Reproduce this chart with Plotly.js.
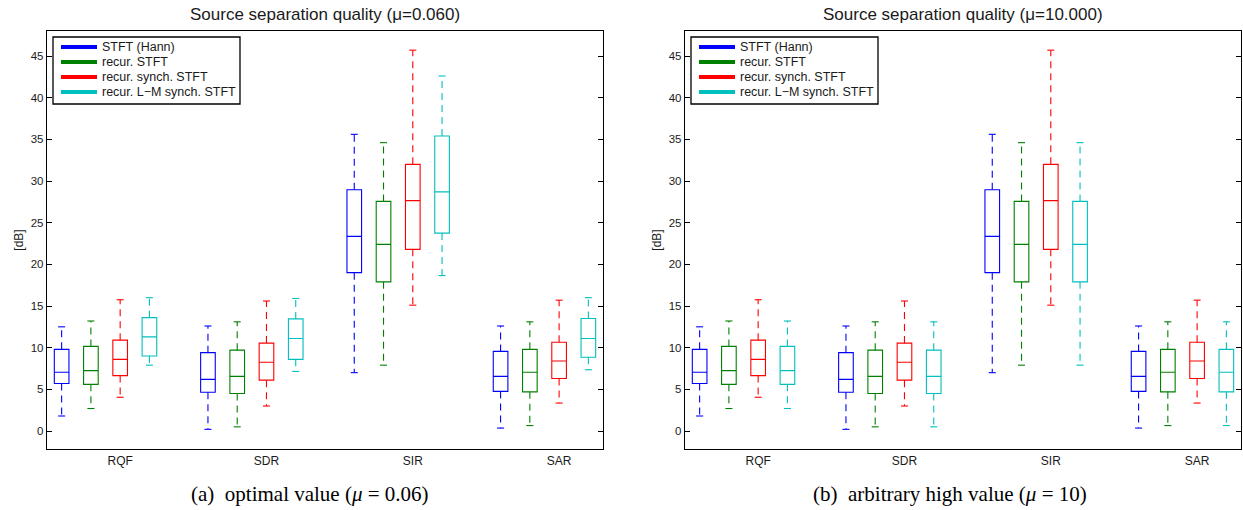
<!DOCTYPE html>
<html><head><meta charset="utf-8">
<script src="https://cdn.plot.ly/plotly-3.0.1.min.js"></script>
<style>html,body{margin:0;padding:0;background:#fff}#chart{width:1243px;height:510px}</style>
</head><body><div id="chart"></div>
<script>
// ---------------- data ----------------
const categories = ['RQF', 'SDR', 'SIR', 'SAR'];
const seriesNames = ['STFT (Hann)', 'recur. STFT', 'recur. synch. STFT', 'recur. L\u2212M synch. STFT'];
const seriesColors = ['#0000ff', '#008000', '#ff0000', '#00bfbf'];
const panelTitles = ['Source separation quality (\u03bc=0.060)', 'Source separation quality (\u03bc=10.000)'];
const panelCaptions = ['(a)&nbsp;&nbsp;optimal value (<i>\u03bc</i>&nbsp;=&nbsp;0.06)', '(b)&nbsp;&nbsp;arbitrary high value (<i>\u03bc</i>&nbsp;=&nbsp;10)'];
const yTickVals = [0, 5, 10, 15, 20, 25, 30, 35, 40, 45];

// each row: one category, [lower whisker, q1, median, q3, upper whisker] in dB
// panel (a) mu = 0.06
const a_hann  = [[1.8, 5.7, 7.05, 9.8, 12.5], [0.2, 4.65, 6.2, 9.4, 12.6], [7.0, 19.0, 23.35, 28.95, 35.6], [0.35, 4.75, 6.55, 9.55, 12.6]];
const a_recur = [[2.7, 5.6, 7.25, 10.15, 13.2], [0.5, 4.5, 6.55, 9.7, 13.1], [7.9, 17.9, 22.4, 27.55, 34.6], [0.65, 4.7, 7.05, 9.8, 13.1]];
const a_synch = [[4.05, 6.65, 8.6, 10.9, 15.75], [3.0, 6.1, 8.25, 10.55, 15.6], [15.1, 21.8, 27.65, 32.0, 45.7], [3.35, 6.3, 8.4, 10.65, 15.7]];
const a_lm    = [[7.9, 9.0, 11.3, 13.6, 16.0], [7.15, 8.6, 11.1, 13.45, 15.9], [18.65, 23.75, 28.7, 35.4, 42.6], [7.35, 8.85, 11.1, 13.5, 16.0]];
// panel (b) mu = 10
const b_hann  = [[1.8, 5.7, 7.05, 9.8, 12.5], [0.2, 4.65, 6.2, 9.4, 12.6], [7.0, 19.0, 23.35, 28.95, 35.6], [0.35, 4.75, 6.55, 9.55, 12.6]];
const b_recur = [[2.7, 5.6, 7.25, 10.15, 13.2], [0.5, 4.5, 6.55, 9.7, 13.1], [7.9, 17.9, 22.4, 27.55, 34.6], [0.65, 4.7, 7.05, 9.8, 13.1]];
const b_synch = [[4.05, 6.65, 8.6, 10.9, 15.75], [3.0, 6.1, 8.25, 10.55, 15.6], [15.1, 21.8, 27.65, 32.0, 45.7], [3.35, 6.3, 8.4, 10.65, 15.7]];
const b_lm    = [[2.7, 5.6, 7.25, 10.15, 13.2], [0.5, 4.5, 6.55, 9.7, 13.1], [7.9, 17.9, 22.4, 27.55, 34.6], [0.65, 4.7, 7.05, 9.8, 13.1]];

// ---------------- layout constants ----------------
const W = 1243, H = 510;
const SLOTS = 5;          // boxes per group + 1 gap slot
const BOX_W = 0.5;        // box width (data units)
const CAP_HALF = 0.12;    // whisker cap half width (data units)
const axisPx = [[47, 603], [685, 1241]];
const yTopPx = 31, yBotPx = 449;
const pxX = p => p / W, pxY = p => 1 - p / H;
const font = 'Liberation Sans, Arial, Helvetica, sans-serif';
const textColor = '#1a1a1a';

const panels = [
  {xa: 'x', ya: 'y', data: [a_hann, a_recur, a_synch, a_lm]},
  {xa: 'x2', ya: 'y2', data: [b_hann, b_recur, b_synch, b_lm]}
];

const pos = (g, s) => g * SLOTS + s + 1;

const traces = [];
panels.forEach(panel => {
  panel.data.forEach((series, s) => {
    const color = seriesColors[s];
    const xs = categories.map((c, g) => pos(g, s));
    // box + median
    traces.push({
      type: 'box', orientation: 'v', xaxis: panel.xa, yaxis: panel.ya,
      x: xs,
      q1: series.map(d => d[1]), median: series.map(d => d[2]), q3: series.map(d => d[3]),
      lowerfence: series.map(d => d[1]), upperfence: series.map(d => d[3]),
      width: BOX_W, whiskerwidth: 0, boxpoints: false,
      line: {color: color, width: 1.1}, fillcolor: 'rgba(0,0,0,0)',
      name: seriesNames[s], showlegend: false, hoverinfo: 'skip'
    });
    // dashed whiskers and solid caps
    const wx = [], wy = [], cx = [], cy = [];
    series.forEach((d, g) => {
      const p = pos(g, s);
      wx.push(p, p, null, p, p, null);
      wy.push(d[3], d[4], null, d[1], d[0], null);
      cx.push(p - CAP_HALF, p + CAP_HALF, null, p - CAP_HALF, p + CAP_HALF, null);
      cy.push(d[4], d[4], null, d[0], d[0], null);
    });
    traces.push({
      type: 'scatter', mode: 'lines', xaxis: panel.xa, yaxis: panel.ya,
      x: wx, y: wy, line: {color: color, width: 1.1, dash: '7px,5px'},
      showlegend: false, hoverinfo: 'skip'
    });
    traces.push({
      type: 'scatter', mode: 'lines', xaxis: panel.xa, yaxis: panel.ya,
      x: cx, y: cy, line: {color: color, width: 1.1},
      showlegend: false, hoverinfo: 'skip'
    });
  });
});

function xAxis(i) {
  return {
    domain: [pxX(axisPx[i][0]), pxX(axisPx[i][1])],
    range: [0.5, SLOTS * categories.length - 0.5],
    tickmode: 'array', tickvals: categories.map((c, g) => pos(g, 2)), ticktext: categories,
    ticks: '', showgrid: false, zeroline: false,
    showline: true, mirror: true, linecolor: '#000', linewidth: 1.2,
    tickfont: {family: font, size: 12, color: textColor},
    anchor: i === 0 ? 'y' : 'y2', fixedrange: true
  };
}
function yAxis(i) {
  return {
    domain: [pxY(yBotPx), pxY(yTopPx)],
    range: [-2.16, 48],
    tickmode: 'array', tickvals: yTickVals,
    ticks: 'inside', ticklen: 5, tickwidth: 1, tickcolor: '#000',
    showgrid: false, zeroline: false,
    showline: true, mirror: 'ticks', linecolor: '#000', linewidth: 1.2,
    tickfont: {family: font, size: 11.5, color: textColor},
    title: {text: '[dB]', font: {family: font, size: 12, color: textColor}, standoff: 4},
    anchor: i === 0 ? 'x' : 'x2', fixedrange: true
  };
}

const annotations = [];
const shapes = [];
[0, 1].forEach(i => {
  const [l, r] = axisPx[i];
  const cx = (l + r) / 2;
  annotations.push({
    xref: 'paper', yref: 'paper', x: pxX(cx), y: pxY(14), xanchor: 'center', yanchor: 'middle',
    text: panelTitles[i], showarrow: false, font: {family: font, size: 17, color: textColor}
  });
  annotations.push({
    xref: 'paper', yref: 'paper', x: pxX(i === 0 ? 310 : 950), y: pxY(494), xanchor: 'center', yanchor: 'middle',
    text: panelCaptions[i], showarrow: false, font: {family: 'Liberation Serif, Times New Roman, serif', size: 21, color: '#000'}
  });
  // legend box
  const lx0 = l + 6, lx1 = l + 193, ly0 = 37, ly1 = 104;
  shapes.push({type: 'rect', xref: 'paper', yref: 'paper', x0: pxX(lx0), x1: pxX(lx1), y0: pxY(ly0), y1: pxY(ly1),
    line: {color: '#000', width: 1.3}, fillcolor: '#fff', layer: 'above'});
  seriesNames.forEach((name, s) => {
    const yy = 47 + s * 15;
    shapes.push({type: 'line', xref: 'paper', yref: 'paper', x0: pxX(lx0 + 8), x1: pxX(lx0 + 44), y0: pxY(yy), y1: pxY(yy),
      line: {color: seriesColors[s], width: 4}, layer: 'above'});
    annotations.push({xref: 'paper', yref: 'paper', x: pxX(lx0 + 47), y: pxY(yy), xanchor: 'left', yanchor: 'middle',
      text: name, showarrow: false, font: {family: font, size: 12.5, color: textColor}});
  });
});

const layout = {
  width: W, height: H,
  margin: {l: 0, r: 0, t: 0, b: 0},
  paper_bgcolor: '#fff', plot_bgcolor: '#fff',
  showlegend: false,
  xaxis: xAxis(0), yaxis: yAxis(0),
  xaxis2: xAxis(1), yaxis2: yAxis(1),
  annotations: annotations, shapes: shapes
};

Plotly.newPlot('chart', traces, layout, {displayModeBar: false, staticPlot: true});
</script>
</body></html>
